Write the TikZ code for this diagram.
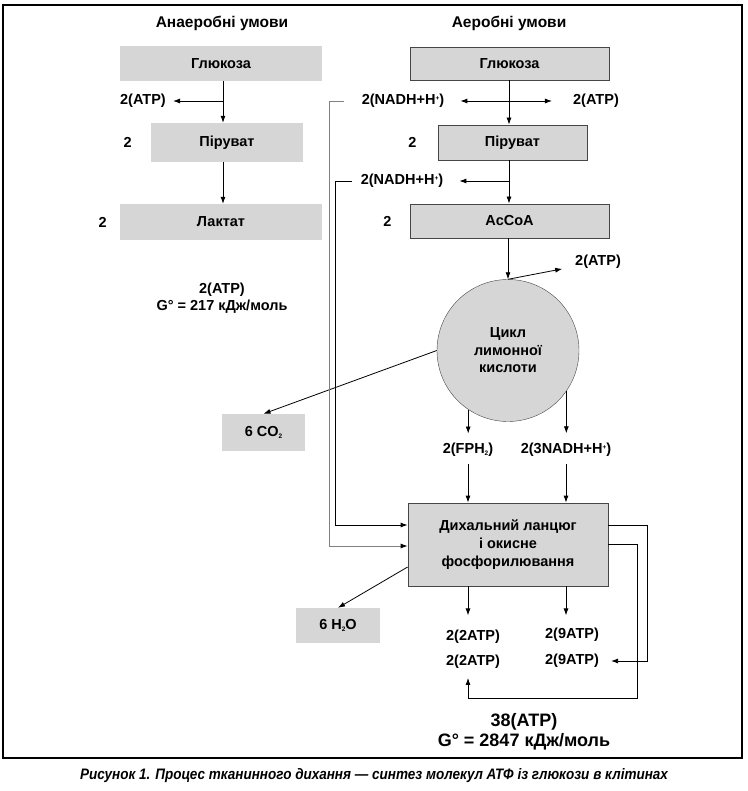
\documentclass[tikz,border=0pt]{standalone}
\usepackage{fontspec}
\setmainfont{Liberation Sans}
\usetikzlibrary{arrows.meta,positioning,calc}
\definecolor{boxgray}{RGB}{214,214,214}
\definecolor{rimgray}{RGB}{70,70,70}
\newcommand{\ionp}{\raisebox{4.5pt}{\fontsize{6.5}{6.5}\selectfont+}}
\newcommand{\idx}[1]{\raisebox{-1.5pt}{\fontsize{6.5}{6.5}\selectfont #1}}

\begin{document}
\begin{tikzpicture}[
    x=1pt, y=-1pt,
    font=\fontsize{14.5}{17}\selectfont\bfseries,
    plain/.style={rectangle, fill=boxgray, inner sep=0pt, align=center},
    framed/.style={plain, draw=rimgray, line width=0.8pt},
    lbl/.style={inner sep=2pt, align=center},
    tall/.style={font=\fontsize{14.5}{17.5}\selectfont\bfseries},
    arrow/.style={-{Latex[length=7pt,width=5pt]}, line width=0.8pt}
]
    \useasboundingbox (0,0) rectangle (747,791);
    \draw[line width=1.3pt] (3,5) rectangle (742,758);

    % anaerobic side
    \node[lbl, font=\fontsize{15.5}{18}\selectfont\bfseries] (hA) at (222,23) {Анаеробні умови};
    \node[plain, minimum width=202pt, minimum height=35pt] (gluA) at (221,63.5) {Глюкоза};
    \node[plain, minimum width=152pt, minimum height=39pt] (pirA) at (227,142.5) {Піруват};
    \node[plain, minimum width=202pt, minimum height=36pt] (lacA) at (221,222) {Лактат};
    \node[lbl, left=17pt of pirA] (nA1) {2};
    \node[lbl, left=11pt of lacA] (nA2) {2};
    \node[lbl] (atpA) at (143,101) {2(ATP)};
    \node[lbl, tall] (sumA) at (222,298) {2(ATP)\\G° = 217 кДж/моль};

    \coordinate (bA) at (223,101);
    \draw[arrow] (gluA.south -| bA) -- (pirA.north -| bA);
    \draw[arrow, shorten >=5pt] (bA) -- (atpA);
    \draw[arrow] (pirA.south -| bA) -- (lacA.north -| bA);

    % aerobic side
    \node[lbl, font=\fontsize{15.5}{18}\selectfont\bfseries] (hB) at (509,23) {Аеробні умови};
    \node[framed, minimum width=199pt, minimum height=33pt] (gluB) at (509.5,63.5) {Глюкоза};
    \node[framed, minimum width=149pt, minimum height=35pt] (pirB) at (512.5,142.5) {Піруват};
    \node[framed, minimum width=199pt, minimum height=34pt] (acoa) at (509.5,221) {AcCoA};
    \node[lbl, left=19pt of pirB] (nB1) {2};
    \node[lbl, left=16pt of acoa] (nB2) {2};
    \node[lbl] (nadh1) at (403,101) {2(NADH+H\ionp)};
    \node[lbl] (atpB) at (596,101) {2(ATP)};
    \node[lbl] (nadh2) at (402,181) {2(NADH+H\ionp)};

    \coordinate (bB) at (509,101);
    \coordinate (bC) at (509,181);
    \draw[arrow] (gluB.south -| bB) -- (pirB.north -| bB);
    \draw[arrow, shorten >=14pt] (bB) -- (nadh1);
    \draw[arrow, shorten >=19pt] (bB) -- (atpB);
    \draw[arrow] (pirB.south -| bB) -- (acoa.north -| bB);
    \draw[arrow, shorten >=14pt] (bC) -- (nadh2);

    % citric acid cycle
    \node[circle, draw=rimgray, fill=boxgray, minimum size=142pt, inner sep=0pt,
          align=center, tall] (krebs) at (508,350.5) {Цикл\\лимонної\\кислоти};
    \node[lbl] (atpC) at (598,262) {2(ATP)};
    \node[plain, minimum width=83pt, minimum height=37pt] (co2) at (263.5,432.5) {6 CO\idx{2}};
    \node[lbl] (fph) at (468,450) {2(FPH\idx{2})};
    \node[lbl] (nadh3) at (566,450) {2(3NADH+H\ionp)};

    \draw[arrow] (acoa.south -| krebs.north) -- (krebs.north);
    \draw[arrow, shorten >=11pt] (krebs.north) -- (atpC);
    \draw[arrow] (krebs.west) -- (co2.north);
    \draw[arrow] (krebs.236) -- ++(0,24);
    \draw[arrow] (krebs.325) -- ++(0,42);

    % respiratory chain
    \node[framed, minimum width=200pt, minimum height=83pt, font=\fontsize{14.5}{18}\selectfont\bfseries]
        (resp) at (508,544.5) {Дихальний ланцюг\\і окисне\\фосфорилювання};
    \node[plain, minimum width=84pt, minimum height=35pt] (h2o) at (338,625.5) {6 H\idx{2}O};
    \node[lbl] (atp2a) at (473,637) {2(2ATP)};
    \node[lbl] (atp2b) at (473,662) {2(2ATP)};
    \node[lbl] (atp9a) at (572,635) {2(9ATP)};
    \node[lbl] (atp9b) at (572,661) {2(9ATP)};
    \node[lbl, font=\fontsize{18}{20}\selectfont\bfseries] (sumB) at (524,732) {38(ATP)\\G° = 2847 кДж/моль};

    \draw[arrow] ([yshift=-5pt]fph.south) -- (resp.north -| fph);
    \draw[arrow] ([yshift=-5pt]nadh3.south) -- (resp.north -| nadh3);
    \draw[arrow, draw=gray, -{Latex[length=7pt,width=5pt,color=black]}]
        ([xshift=-16pt]nadh1.west) -- ++(-14,0) |- ([yshift=-1.5pt]resp.west);
    \draw[arrow] ([xshift=-7pt]nadh2.west) -- ++(-16,0) |- ([yshift=19.5pt]resp.west);
    \draw[arrow] ([yshift=-22.5pt]resp.west) -- (h2o.north);
    \draw[arrow] (resp.south -| fph) -- ++(0,29);
    \draw[arrow] (resp.south -| nadh3) -- ++(0,29);
    \draw[arrow, shorten >=10pt] ([yshift=19.5pt]resp.east) -- ++(39,0) |- (atp9b.east);
    \draw[arrow, shorten >=7pt] ([yshift=0.5pt]resp.east) -- ++(29,0)
        |- ($(atp2b.south -| fph)+(0,27)$) -- (atp2b.south -| fph);

    % caption
    \node (cap) at (374,776) {\resizebox{588pt}{11pt}{\bfseries\itshape Рисунок 1. Процес тканинного дихання — синтез молекул АТФ із глюкози в клітинах}};
\end{tikzpicture}
\end{document}
